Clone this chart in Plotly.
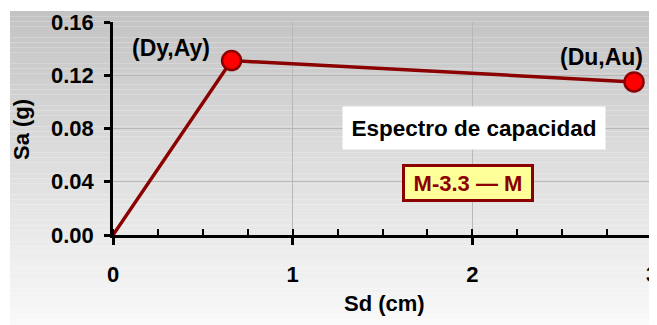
import plotly.graph_objects as go

# capacity curve points
sd = [0, 0.66, 2.9]          # Sd (cm)
sa = [0, 0.131, 0.115]       # Sa (g)
point_labels = ["(Dy,Ay)", "(Du,Au)"]

x_ticks = [0, 1, 2, 3]
y_ticks = [0.00, 0.04, 0.08, 0.12, 0.16]

# the page body has an 8px margin, so the figure is a bit smaller
OFF = 8
W, H = 657 - OFF, 325 - OFF
ml, mr, mt, mb = 113 - OFF, 5, 22 - OFF, 90
pw, ph = W - ml - mr, H - mt - mb

# page pixel -> paper coordinate
def px_x(p):
    return (p - OFF - ml) / pw

def px_y(p):
    return (H - mb - (p - OFF)) / ph

dark = "#8b0000"
font = "Liberation Sans"

fig = go.Figure()
fig.add_trace(go.Scatter(x=sd, y=sa, mode="lines",
                         line=dict(color=dark, width=3.5),
                         hoverinfo="skip", showlegend=False))
fig.add_trace(go.Scatter(x=sd[1:], y=sa[1:], mode="markers",
                         marker=dict(color="#ff0000", size=19,
                                     line=dict(color=dark, width=2.5)),
                         showlegend=False))

# gray gradient background (bands)
top, bottom = 11, 325
n = 60
shapes = []
for i in range(n):
    y0 = top + (bottom - top) * i / n
    y1 = top + (bottom - top) * (i + 1) / n
    t = i / (n - 1)
    g = int(196 + (249 - 196) * t)
    shapes.append(dict(type="rect", xref="paper", yref="paper",
                       x0=px_x(10), x1=px_x(657), y0=px_y(y1), y1=px_y(y0),
                       fillcolor=f"rgb({g},{g},{g})", line=dict(width=0),
                       layer="below"))

annotations = [
    dict(x=sd[1], y=sa[1], text="<b>" + point_labels[0] + "</b>", showarrow=False,
         xshift=-61, yshift=13, font=dict(family=font, size=23, color="black")),
    dict(x=sd[2], y=sa[2], text="<b>" + point_labels[1] + "</b>", showarrow=False,
         xshift=-33, yshift=25, font=dict(family=font, size=23, color="black")),
    dict(xref="paper", yref="paper", x=px_x(474), y=px_y(128),
         xanchor="center", yanchor="middle",
         text="<b>Espectro de capacidad</b>", showarrow=False,
         bgcolor="white", width=260, height=40, borderpad=1,
         font=dict(family=font, size=22.5, color="black")),
    dict(xref="paper", yref="paper", x=px_x(468), y=px_y(183),
         xanchor="center", yanchor="middle",
         text="<b>M-3.3 — M</b>", showarrow=False,
         bgcolor="#ffff99", bordercolor=dark, borderwidth=3,
         width=124, height=30, borderpad=1,
         font=dict(family=font, size=22, color=dark)),
    dict(xref="paper", yref="paper", x=px_x(21), y=px_y(130),
         xanchor="center", yanchor="middle",
         text="<b>Sa (g)</b>", showarrow=False, textangle=-90,
         font=dict(family=font, size=22, color="black")),
    dict(xref="paper", yref="paper", x=px_x(384), y=px_y(303),
         xanchor="center", yanchor="middle",
         text="<b>Sd (cm)</b>", showarrow=False,
         font=dict(family=font, size=22, color="black")),
]

fig.update_layout(
    width=W, height=H,
    margin=dict(l=ml, r=mr, t=mt, b=mb),
    paper_bgcolor="white",
    plot_bgcolor="rgba(0,0,0,0)",
    shapes=shapes,
    annotations=annotations,
    font=dict(family=font, size=22, color="black"),
    xaxis=dict(range=[0, 3], tickvals=x_ticks, ticktext=[f"<b>{v}</b>" for v in x_ticks],
               automargin=False, ticklabeloverflow="allow",
               showline=True, linecolor="black", linewidth=2.5,
               ticks="outside", ticklen=7, tickwidth=2.5, tickcolor="black",
               ticklabelstandoff=11,
               minor=dict(ticks="inside", ticklen=6, tickwidth=2, tickcolor="black",
                          dtick=0.25, showgrid=False),
               showgrid=True, gridcolor="#b8b8b8", gridwidth=1, zeroline=False),
    xaxis2=dict(range=[0, 3], overlaying="x", anchor="y", side="bottom",
                automargin=False,
                tickvals=x_ticks, ticks="inside", ticklen=7, tickwidth=2.5,
                tickcolor="black", showticklabels=False, showgrid=False,
                showline=False, zeroline=False),
    yaxis=dict(range=[0, 0.16], tickvals=y_ticks,
               ticktext=[f"<b>{v:.2f}</b>" for v in y_ticks],
               automargin=False,
               showline=True, linecolor="black", linewidth=2.5,
               ticks="outside", ticklen=6, tickwidth=2.5, tickcolor="black",
               ticklabelstandoff=6,
               showgrid=True, gridcolor="#b8b8b8", gridwidth=1, zeroline=False),
)

fig.write_html("out.html")
